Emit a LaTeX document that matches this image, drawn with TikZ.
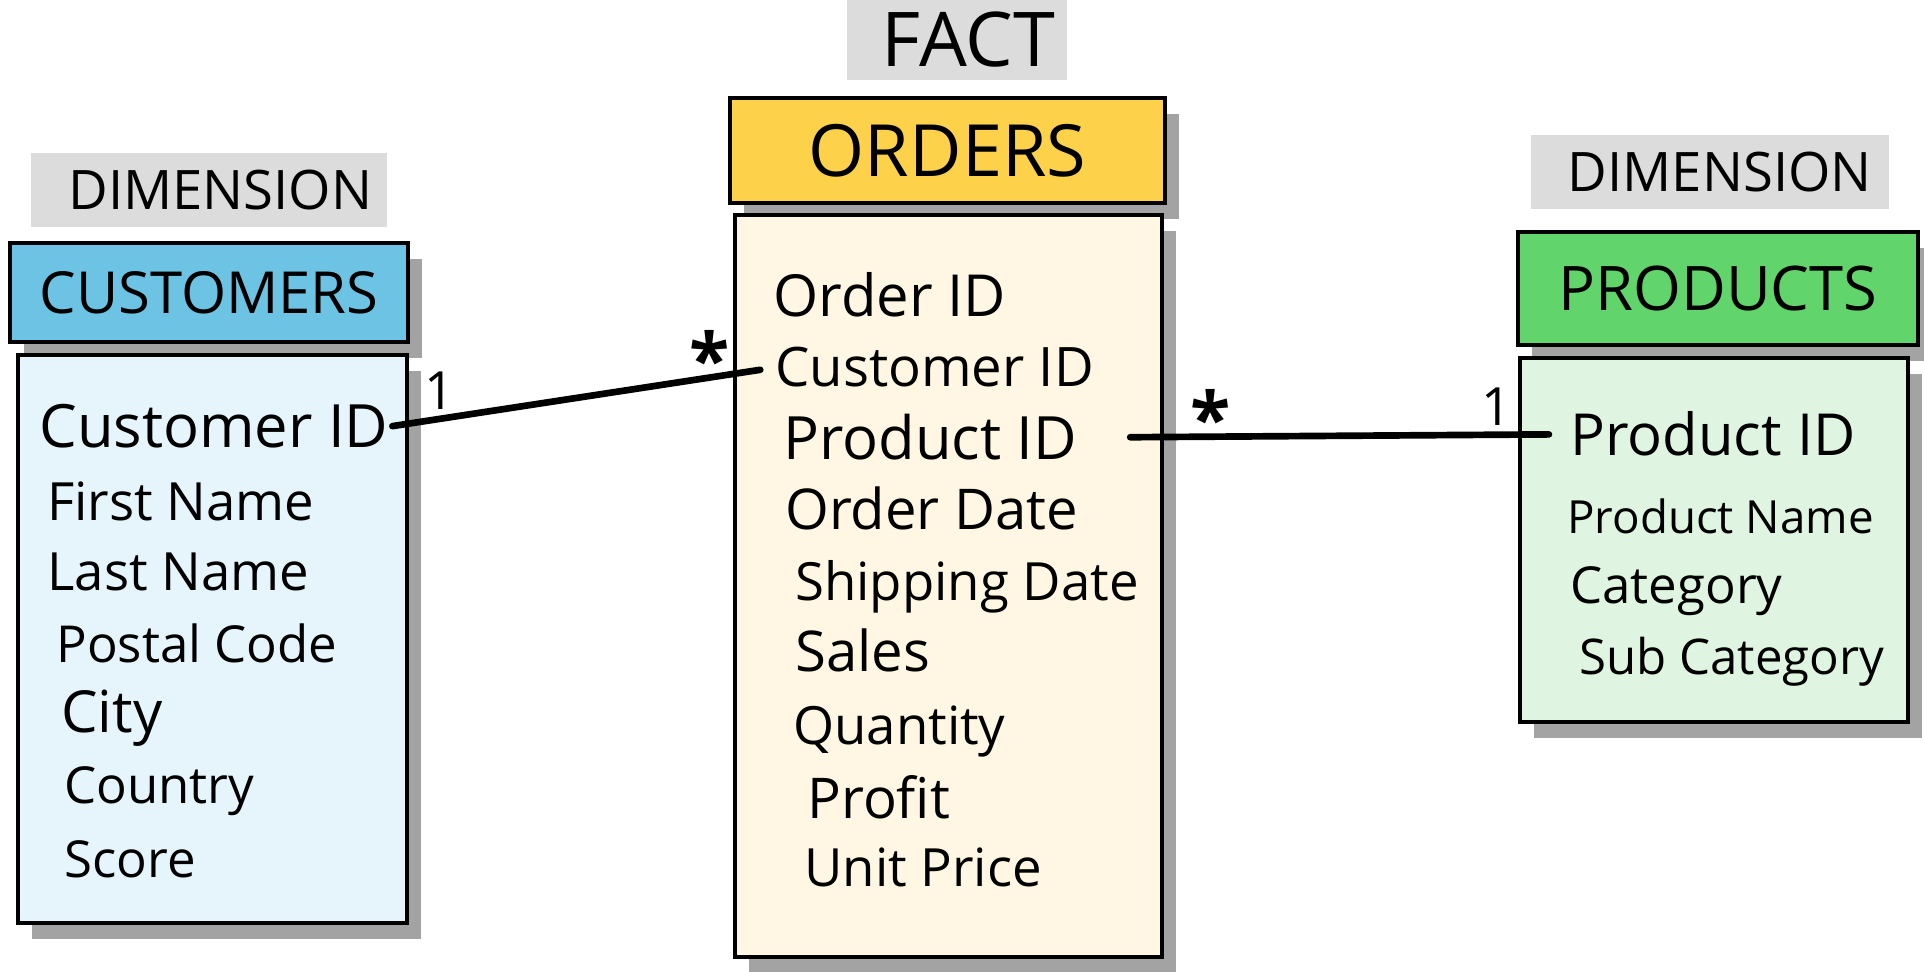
\documentclass[tikz,border=0pt]{standalone}
\usepackage{fontspec}
\setmainfont{Open Sans}
\usetikzlibrary{shadows, positioning}
\definecolor{custhead}{HTML}{6CC3E3}
\definecolor{custbody}{HTML}{E6F4FB}
\definecolor{ordhead}{HTML}{FDD24A}
\definecolor{ordbody}{HTML}{FFF7E3}
\definecolor{prodhead}{HTML}{62D46C}
\definecolor{prodbody}{HTML}{DFF5E1}
\definecolor{bandgray}{HTML}{DCDCDC}
\definecolor{shadowgray}{HTML}{A3A3A3}
\newcommand{\fsz}[1]{\fontsize{#1}{#1}\selectfont}
\tikzset{
  tbox/.style   = {rectangle, draw=black, line width=2.7pt, inner sep=0pt,
                   drop shadow={shadow xshift=0.28cm, shadow yshift=-0.32cm,
                                fill=shadowgray, opacity=1}},
  headbox/.style= {tbox, font=\fsz{33}},
  band/.style   = {rectangle, fill=bandgray, inner sep=0pt, font=\fsz{31}},
  field/.style  = {inner sep=0pt, anchor=base west},
  link/.style   = {line width=3.8pt, line cap=round},
  one/.style    = {inner sep=0pt, font=\fsz{30}, yshift=16pt},
  many/.style   = {inner sep=0pt, font=\fsz{42}\bfseries, yshift=11pt},
}
\begin{document}
\begin{tikzpicture}[x=0.02cm, y=-0.02cm]
  \useasboundingbox (0,0) rectangle (1924,972);

  % labels above the tables
  \node[band, minimum width=7.12cm, minimum height=1.48cm] (dimleft) at (209,190) {\hspace*{13pt}DIMENSION};
  \node[band, minimum width=4.4cm, minimum height=1.6cm, font=\fsz{43}] (fact) at (957,40) {\hspace*{13pt}FACT};
  \node[band, minimum width=7.18cm, minimum height=1.48cm] (dimright) at (1710,172) {\hspace*{11pt}DIMENSION};

  % customers
  \node[headbox, fill=custhead, minimum width=7.96cm, minimum height=1.98cm] (custh) at (209,292.5) {CUSTOMERS};
  \node[tbox, fill=custbody, minimum width=7.78cm, minimum height=11.36cm] (custb) at (212.5,639) {};
  \foreach \t/\x/\y/\s [count=\i] in {Customer ID/39/448/34, First Name/47/521/30, Last Name/47/591/30,
      Postal Code/56/663/29, City/61/733/33, Country/64/804/29, Score/64/877/29}
    \node[field, font=\fsz{\s}] (c\i) at (\x,\y) {\t};

  % orders
  \node[headbox, fill=ordhead, minimum width=8.7cm, minimum height=2.1cm,
        font=\fsz{41}] (ordh) at (947.5,150.5) {ORDERS};
  \node[tbox, fill=ordbody, minimum width=8.54cm, minimum height=14.84cm] (ordb) at (948.5,586) {};
  \foreach \t/\x/\y/\s [count=\i] in {Order ID/773/317/33, Customer ID/775/387/31, Product ID/783/460/34,
      Order Date/785/530/32, Shipping Date/795/601/30, Sales/795/672/32, Quantity/793/745/30,
      Profit/807/818/32, Unit Price/804/886/30}
    \node[field, font=\fsz{\s}] (o\i) at (\x,\y) {\t};

  % products
  \node[headbox, fill=prodhead, minimum width=8.0cm, minimum height=2.26cm,
        font=\fsz{35}] (prodh) at (1718,288.5) {PRODUCTS};
  \node[tbox, fill=prodbody, minimum width=7.76cm, minimum height=7.28cm] (prodb) at (1714,540) {};
  \foreach \t/\x/\y/\s [count=\i] in {Product ID/1570/456/33, Product Name/1567/534/26,
      Category/1570/604/29, Sub Category/1579/675/28}
    \node[field, font=\fsz{\s}] (p\i) at (\x,\y) {\t};

  % relationships
  \draw[link, shorten <=2pt, shorten >=8.5pt] (c1.east) -- (o2.west)
    node[one, pos=0.13] {1}
    node[many, pos=0.83] {*};
  \draw[link, shorten <=30pt, shorten >=12pt] (o3.east) -- (p1.west)
    node[many, pos=0.27] {*}
    node[one, pos=0.85] {1};
\end{tikzpicture}
\end{document}
